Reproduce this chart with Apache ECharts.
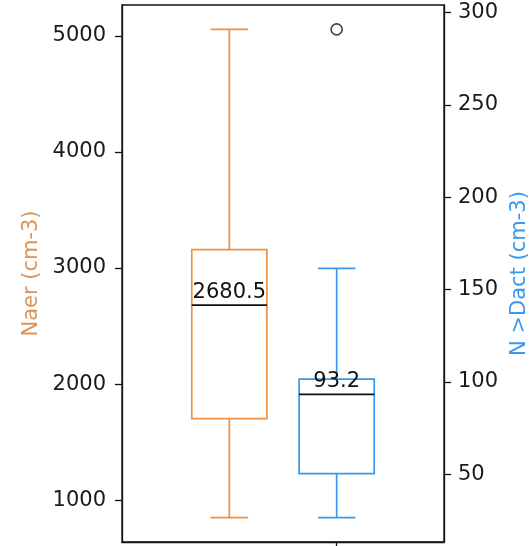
<!DOCTYPE html>
<html>
<head>
<meta charset="utf-8">
<script src="https://cdn.jsdelivr.net/npm/echarts@6/dist/echarts.min.js"></script>
<style>html,body{margin:0;padding:0;background:#fff;}#c{width:531px;height:546px;}</style>
</head>
<body>
<div id="c"></div>
<script>
// Data
var positions = [1, 2];
// [low whisker, Q1, median, Q3, high whisker]
var naerStats = [851, 1704, 2680.5, 3159, 5055];
var dactStats = [26.5, 50.3, 93.2, 101.5, 161.4];
var dactOutliers = [290.8];
var naerTicks = [1000, 2000, 3000, 4000, 5000];
var dactTicks = [50, 100, 150, 200, 250, 300];
var medianLabels = ['2680.5', '93.2'];

var ORANGE = '#ec9245';
var BLUE = '#3b97ea';
var FONT = 'DejaVu Sans';

function makeRender(color, labelText) {
  return function (params, api) {
    var x = api.value(0);
    var low = api.value(1), q1 = api.value(2), med = api.value(3), q3 = api.value(4), high = api.value(5);
    var w = api.size([0.7, 0])[0];
    var cw = api.size([0.35, 0])[0];
    var pLow = api.coord([x, low]);
    var pQ1 = api.coord([x, q1]);
    var pMed = api.coord([x, med]);
    var pQ3 = api.coord([x, q3]);
    var pHigh = api.coord([x, high]);
    var cx = pMed[0];
    var ls = {stroke: color, lineWidth: 1.7};
    return {
      type: 'group',
      children: [
        {type: 'line', shape: {x1: cx, y1: pLow[1], x2: cx, y2: pQ1[1]}, style: ls},
        {type: 'line', shape: {x1: cx, y1: pQ3[1], x2: cx, y2: pHigh[1]}, style: ls},
        {type: 'line', shape: {x1: cx - cw / 2, y1: pLow[1], x2: cx + cw / 2, y2: pLow[1]}, style: ls},
        {type: 'line', shape: {x1: cx - cw / 2, y1: pHigh[1], x2: cx + cw / 2, y2: pHigh[1]}, style: ls},
        {type: 'rect', shape: {x: cx - w / 2, y: pQ3[1], width: w, height: pQ1[1] - pQ3[1]},
          style: {fill: 'none', stroke: color, lineWidth: 1.7}},
        {type: 'line', shape: {x1: cx - w / 2, y1: pMed[1], x2: cx + w / 2, y2: pMed[1]},
          style: {stroke: '#111', lineWidth: 1.7}},
        {type: 'text', x: cx, y: pMed[1] - 2,
          style: {text: labelText, fill: '#111', font: '21px "' + FONT + '"', align: 'center', verticalAlign: 'bottom'}}
      ]
    };
  };
}

var chart = echarts.init(document.getElementById('c'));
chart.setOption({
  animation: false,
  backgroundColor: '#fff',
  textStyle: {fontFamily: FONT},
  grid: {left: 122, right: 87, top: 5, bottom: 4, show: true, borderColor: '#111', borderWidth: 1.3,
    backgroundColor: 'transparent', containLabel: false, outerBoundsMode: 'none'},
  xAxis: {
    type: 'value', min: 0, max: 3,
    splitLine: {show: false},
    axisLine: {show: true, lineStyle: {color: '#111', width: 1.3}},
    axisTick: {show: true, customValues: [2], length: 7, lineStyle: {color: '#111', width: 1.3}},
    axisLabel: {show: false}
  },
  yAxis: [
    {
      type: 'value', min: 641, max: 5265, position: 'left',
      name: 'Naer (cm-3)', nameLocation: 'middle', nameGap: 79, nameRotate: 90,
      nameTextStyle: {color: '#db955a', fontSize: 21, fontFamily: FONT},
      splitLine: {show: false},
      axisLine: {show: true, lineStyle: {color: '#111', width: 1.3}},
      axisTick: {show: true, customValues: naerTicks, length: 7, lineStyle: {color: '#111', width: 1.3}},
      axisLabel: {customValues: naerTicks, color: '#1a1a1a', fontSize: 21, fontFamily: FONT, margin: 16,
        formatter: function (v) { return String(v); }}
    },
    {
      type: 'value', min: 13.3, max: 304, position: 'right',
      name: 'N >Dact (cm-3)', nameLocation: 'middle', nameGap: 60, nameRotate: 90,
      nameTextStyle: {color: '#3a98f0', fontSize: 21, fontFamily: FONT},
      splitLine: {show: false},
      axisLine: {show: true, lineStyle: {color: '#111', width: 1.3}},
      axisTick: {show: true, customValues: dactTicks, length: 7, lineStyle: {color: '#111', width: 1.3}},
      axisLabel: {customValues: dactTicks, color: '#1a1a1a', fontSize: 21, fontFamily: FONT, margin: 14,
        formatter: function (v) { return String(v); }}
    }
  ],
  series: [
    {
      type: 'custom', xAxisIndex: 0, yAxisIndex: 0,
      renderItem: makeRender(ORANGE, medianLabels[0]),
      data: [[positions[0]].concat(naerStats)],
      encode: {x: 0, y: [1, 2, 3, 4, 5]},
      clip: false
    },
    {
      type: 'custom', xAxisIndex: 0, yAxisIndex: 1,
      renderItem: makeRender(BLUE, medianLabels[1]),
      data: [[positions[1]].concat(dactStats)],
      encode: {x: 0, y: [1, 2, 3, 4, 5]},
      clip: false
    },
    {
      type: 'scatter', xAxisIndex: 0, yAxisIndex: 1,
      symbol: 'circle', symbolSize: 11,
      itemStyle: {color: 'rgba(0,0,0,0)', borderColor: '#111', borderWidth: 1.6},
      data: dactOutliers.map(function (v) { return [positions[1], v]; })
    }
  ]
});
</script>
</body>
</html>
